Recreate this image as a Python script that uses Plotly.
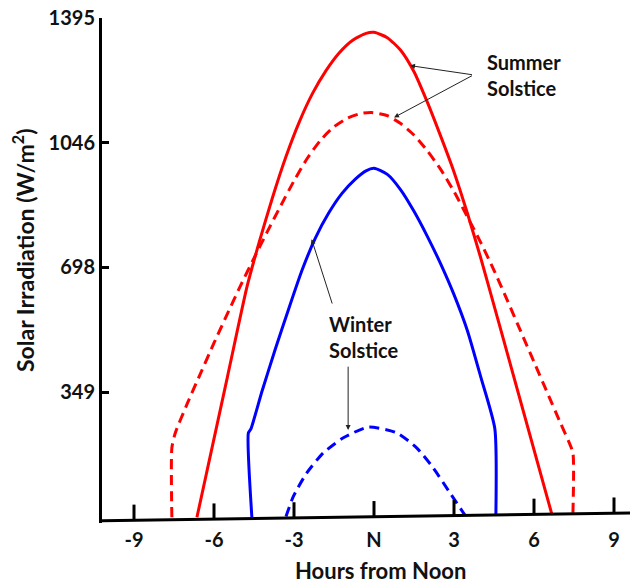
import plotly.graph_objects as go

# Hours from solar noon and irradiance (W/m^2) for each curve
summer_solid_h = [-6.64, -5.5, -4.76, -4.3, -3.8, -3.3, -2.8, -2.3, -1.8, -1.3, -0.8, -0.3, 0.0,
                  0.5, 1.0, 1.5, 2.0, 2.5, 3.0, 3.5, 4.0, 4.5, 5.0, 6.66]
summer_solid_v = [0, 391, 645, 770, 895, 1008, 1105, 1185, 1248, 1298, 1333, 1352, 1355,
                  1340, 1305, 1245, 1160, 1065, 965, 850, 725, 592, 458, 11]

summer_dash_h = [-7.58, -7.58, -7.45, -7.0, -6.5, -6.0, -5.5, -5.0, -4.5, -4.0, -3.5, -3.0,
                 -2.5, -2.0, -1.5, -1.0, -0.5, -0.1, 0.5, 1.0, 1.5, 2.0, 2.5, 3.0, 3.5,
                 4.0, 4.5, 5.0, 5.5, 6.0, 6.5, 7.0, 7.3, 7.46, 7.46]
summer_dash_v = [0, 194, 236, 318, 403, 487, 568, 648, 724, 798, 870, 940,
                 1003, 1054, 1091, 1115, 1128, 1131, 1122, 1100, 1068, 1024, 972, 910, 840,
                 768, 690, 606, 520, 434, 348, 262, 212, 180, 11]

winter_solid_h = [-4.58, -4.71, -4.62, -4.2, -3.7, -3.2, -2.7, -2.2, -1.7, -1.2, -0.7, -0.3, 0.0,
                  0.5, 1.0, 1.5, 2.0, 2.5, 3.0, 3.5, 4.0, 4.53, 4.57]
winter_solid_v = [0, 236, 246, 352, 470, 582, 690, 780, 850, 905, 945, 968, 975,
                  958, 915, 855, 785, 708, 622, 522, 393, 248, 6]

winter_dash_h = [-3.30, -3.02, -2.52, -1.90, -1.15, -0.21, 0.85, 1.60, 2.22, 2.85, 3.41]
winter_dash_v = [2, 59, 124, 180, 222, 252, 236, 194, 138, 68, 6]

x_ticks = [-9, -6, -3, 0, 3, 6, 9]
x_tick_text = ["-9", "-6", "-3", "N", "3", "6", "9"]
y_ticks = [349, 698, 1046, 1395]

X_MIN, X_MAX = -10.2, 9.6
Y_MIN, Y_MAX = -16, 1395
FONT = "Lato"


def baseline(h):
    # the hour axis is drawn slightly sloped, rising to the right
    return -10 + (h - X_MIN) * 22 / (X_MAX - X_MIN)


fig = go.Figure()

series = [
    (summer_solid_h, summer_solid_v, "#ff0000", "solid"),
    (summer_dash_h, summer_dash_v, "#ff0000", "10px,6px"),
    (winter_solid_h, winter_solid_v, "#0000ff", "solid"),
    (winter_dash_h, winter_dash_v, "#0000ff", "10px,6px"),
]
for hx, vy, color, dash in series:
    fig.add_trace(go.Scatter(x=hx, y=vy, mode="lines",
                             line=dict(color=color, width=3, dash=dash,
                                       shape="spline", smoothing=0.6),
                             showlegend=False, hoverinfo="skip", cliponaxis=False))

shapes = [dict(type="line", xref="x", yref="y", x0=X_MIN, x1=X_MAX,
               y0=baseline(X_MIN), y1=baseline(X_MAX),
               line=dict(color="black", width=3), layer="above")]
for t in x_ticks:
    b = baseline(t)
    shapes.append(dict(type="line", xref="x", yref="y", x0=t, x1=t, y0=b, y1=b + 44,
                       line=dict(color="black", width=3), layer="above"))

arrow_style = dict(showarrow=True, arrowhead=2, arrowsize=1, arrowwidth=1,
                   arrowcolor="#222222", axref="x", ayref="y", text="",
                   xref="x", yref="y", standoff=0, startstandoff=0)
annotations = [
    dict(x=1.35, y=1262, ax=3.73, ay=1236, **arrow_style),
    dict(x=0.75, y=1117, ax=3.73, ay=1236, **arrow_style),
    dict(x=-2.34, y=777, ax=-1.55, ay=593, **arrow_style),
    dict(x=-0.97, y=244, ax=-0.97, ay=425, **arrow_style),
    dict(x=4.16, y=1236, xref="x", yref="y", text="Summer<br>Solstice",
         showarrow=False, xanchor="left", yanchor="middle", align="left",
         font=dict(family=FONT, size=20, color="#111111", weight="bold")),
    dict(x=-1.76, y=504, xref="x", yref="y", text="Winter<br>Solstice",
         showarrow=False, xanchor="left", yanchor="middle", align="left",
         font=dict(family=FONT, size=20, color="#111111", weight="bold")),
    dict(x=(24 - 102) / 528, y=(523 - 251) / 505, xref="paper", yref="paper",
         text="Solar Irradiation (W/m<sup>2</sup>)", textangle=-90, showarrow=False,
         xanchor="center", yanchor="middle",
         font=dict(family=FONT, size=23, color="#111111", weight="bold")),
    dict(x=(380 - 102) / 528, y=(523 - 570) / 505, xref="paper", yref="paper",
         text="Hours from Noon", showarrow=False, xanchor="center", yanchor="middle",
         font=dict(family=FONT, size=22, color="#111111", weight="bold")),
]

fig.update_layout(
    width=630, height=583,
    margin=dict(l=102, r=0, t=18, b=60),
    paper_bgcolor="white", plot_bgcolor="white",
    shapes=shapes, annotations=annotations,
    xaxis=dict(range=[X_MIN, X_MAX], showgrid=False, zeroline=False, showline=False,
               tickvals=x_ticks, ticktext=x_tick_text, ticks="", ticklabelstandoff=3,
               tickfont=dict(family=FONT, size=20, color="#111111", weight="bold")),
    yaxis=dict(range=[Y_MIN, Y_MAX], showgrid=False, zeroline=False, showline=True,
               linecolor="black", linewidth=3, tickvals=y_ticks, ticks="inside",
               ticklen=7, tickwidth=3, tickcolor="black",
               tickfont=dict(family=FONT, size=20, color="#111111", weight="bold")),
)

fig.write_html("out.html")
